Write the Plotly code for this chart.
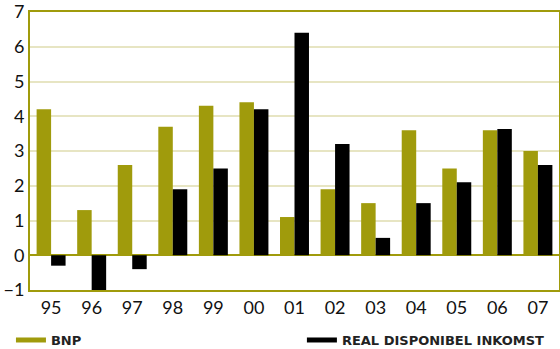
import plotly.graph_objects as go

# Annual growth, per cent
years = ["95", "96", "97", "98", "99", "00", "01", "02", "03", "04", "05", "06", "07"]
bnp = [4.2, 1.3, 2.6, 3.7, 4.3, 4.4, 1.1, 1.9, 1.5, 3.6, 2.5, 3.6, 3.0]
income = [-0.3, -1.0, -0.4, 1.9, 2.5, 4.2, 6.4, 3.2, 0.5, 1.5, 2.1, 3.63, 2.6]
y_ticks = [-1, 0, 1, 2, 3, 4, 5, 6, 7]

OLIVE = "#a09b0c"
GRID = "#e7e5c3"
TICK_FONT = dict(family="Lato", size=18, color="#111111")
LEGEND_FONT = dict(family="DejaVu Sans", size=13, color="#222222", weight="bold")

pos = list(range(len(years)))

fig = go.Figure()
fig.add_bar(x=pos, y=bnp, name="BNP", marker=dict(color=OLIVE, line=dict(width=0)),
            showlegend=False)
fig.add_bar(x=pos, y=income, name="REAL DISPONIBEL INKOMST",
            marker=dict(color="#000000", line=dict(width=0)), showlegend=False)

# Legend keys drawn as thick line swatches
fig.add_scatter(x=[None], y=[None], mode="lines", name="BNP",
                line=dict(color=OLIVE, width=5), legend="legend")
fig.add_scatter(x=[None], y=[None], mode="lines", name="REAL DISPONIBEL INKOMST",
                line=dict(color="#000000", width=5), legend="legend2")

legend_common = dict(orientation="h", yanchor="middle", xanchor="left", y=-0.18,
                     bgcolor="rgba(0,0,0,0)", borderwidth=0, font=LEGEND_FONT,
                     itemwidth=30)

fig.update_layout(
    width=560, height=349,
    margin=dict(l=30, r=1, t=12, b=59, autoexpand=False),
    paper_bgcolor="white", plot_bgcolor="white",
    barmode="group", bargap=0.286, bargroupgap=0,
    legend=dict(x=-0.036, **legend_common),
    legend2=dict(x=0.514, **legend_common),
    xaxis=dict(range=[-0.52, 12.52], tickvals=pos, ticktext=years, tickfont=TICK_FONT,
               showgrid=False, zeroline=False, ticks="",
               showline=True, mirror=True, linecolor=OLIVE, linewidth=2),
    yaxis=dict(range=[-1, 7], tickvals=y_ticks, tickfont=TICK_FONT, ticks="",
               showgrid=True, gridcolor=GRID, gridwidth=2,
               zeroline=True, zerolinecolor=OLIVE, zerolinewidth=2,
               showline=True, mirror=True, linecolor=OLIVE, linewidth=2),
)

fig.write_html("out.html")
